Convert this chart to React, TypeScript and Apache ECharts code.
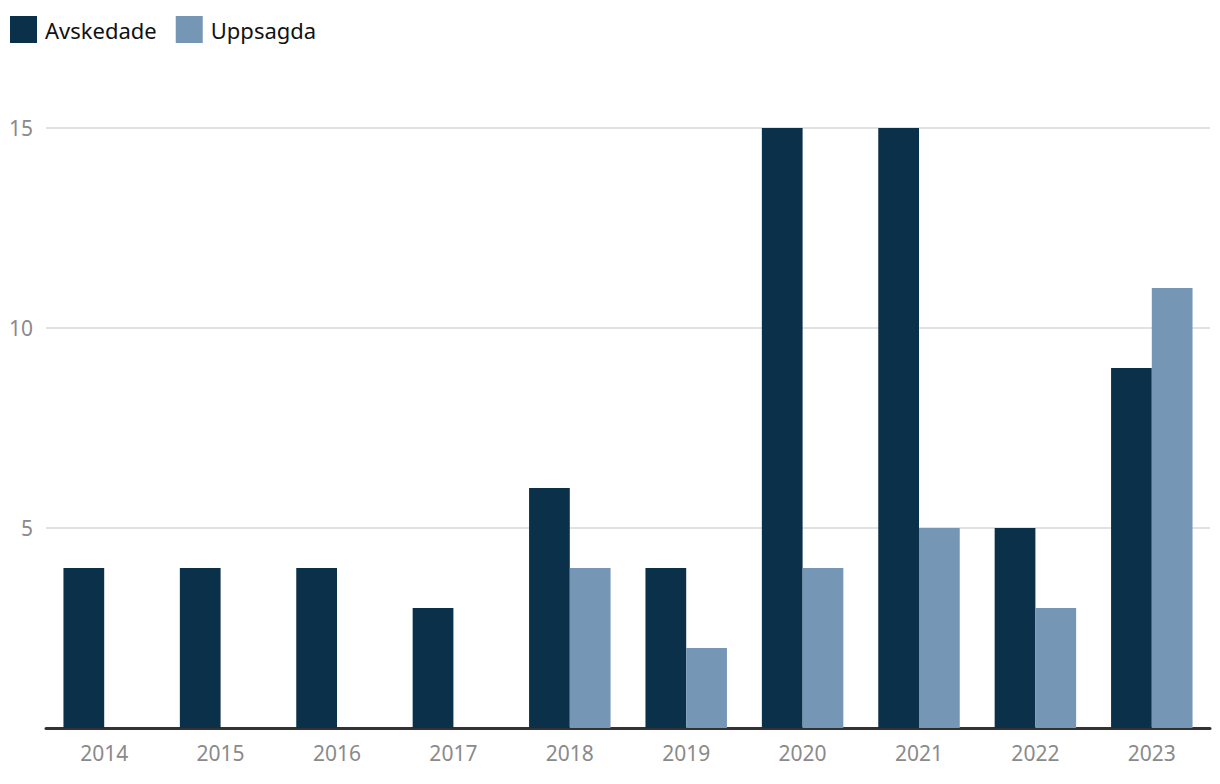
import React, { useEffect, useRef } from "react";
import * as echarts from "echarts";

const years = ["2014", "2015", "2016", "2017", "2018", "2019", "2020", "2021", "2022", "2023"];
const avskedade = [4, 4, 4, 3, 6, 4, 15, 15, 5, 9];
const uppsagda = [0, 0, 0, 0, 4, 2, 4, 5, 3, 11];

export default function App() {
  const ref = useRef<HTMLDivElement>(null);
  useEffect(() => {
    const chart = echarts.init(ref.current!, null, { renderer: "svg" });
    chart.setOption({
      animation: false,
      textStyle: { fontFamily: "Noto Sans" },
      legend: {
        left: 10,
        top: 16,
        padding: 0,
        itemWidth: 27,
        itemHeight: 27,
        itemGap: 19,
        icon: "rect",
        textStyle: { fontSize: 22, color: "#111", padding: [0, 0, 0, 3] },
        data: ["Avskedade", "Uppsagda"],
      },
      grid: { left: 46, right: 10, top: 128, bottom: 56, containLabel: false },
      xAxis: {
        type: "category",
        data: years,
        axisLine: { lineStyle: { color: "#333", width: 3 } },
        axisTick: { show: false },
        axisLabel: { color: "#8a8a8a", fontSize: 21, margin: 14 },
      },
      yAxis: {
        type: "value",
        min: 0,
        max: 15,
        interval: 5,
        axisLine: { show: false },
        axisTick: { show: false },
        splitLine: { lineStyle: { color: "#e2e2e2", width: 2 } },
        axisLabel: {
          color: "#8a8a8a",
          fontSize: 21,
          margin: 13,
          formatter: (v: number) => (v === 0 ? "" : String(v)),
        },
      },
      series: [
        {
          name: "Avskedade",
          type: "bar",
          data: avskedade,
          itemStyle: { color: "#0b3049" },
          barGap: "0%",
          barCategoryGap: "30%",
        },
        {
          name: "Uppsagda",
          type: "bar",
          data: uppsagda,
          itemStyle: { color: "#7596b5" },
          barGap: "0%",
          barCategoryGap: "30%",
        },
      ],
    });
    return () => chart.dispose();
  }, []);
  return <div ref={ref} style={{ width: 1220, height: 784, position: "absolute", left: 0, top: 0 }} />;
}
